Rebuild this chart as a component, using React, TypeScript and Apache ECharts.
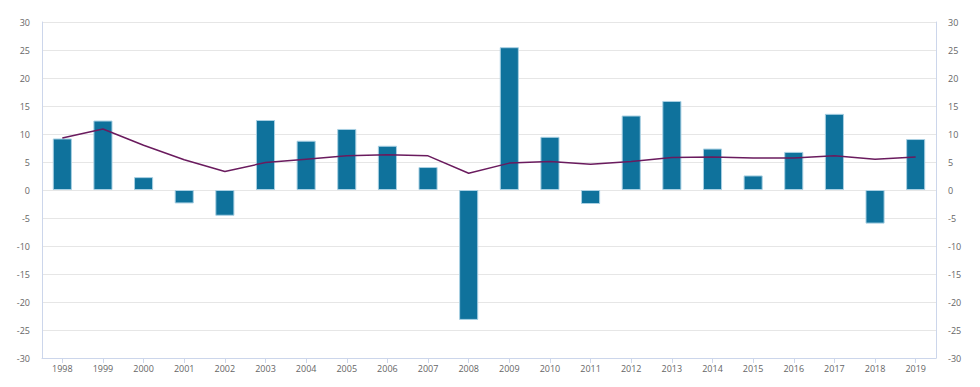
import React, { useEffect, useRef } from "react";
import * as echarts from "echarts";

const years = ["1998","1999","2000","2001","2002","2003","2004","2005","2006","2007","2008","2009","2010","2011","2012","2013","2014","2015","2016","2017","2018","2019"];
const barValues = [9.2, 12.4, 2.3, -2.4, -4.6, 12.5, 8.8, 10.9, 7.9, 4.1, -23.2, 25.5, 9.5, -2.5, 13.3, 15.9, 7.4, 2.6, 6.8, 13.6, -6.0, 9.1];
const lineValues = [9.3, 10.9, 8.0, 5.4, 3.3, 4.9, 5.5, 6.1, 6.3, 6.1, 3.0, 4.8, 5.1, 4.6, 5.1, 5.8, 5.9, 5.7, 5.7, 6.1, 5.5, 5.9];

export default function App() {
  const ref = useRef<HTMLDivElement>(null);
  useEffect(() => {
    if (!ref.current) return;
    const chart = echarts.init(ref.current, undefined, { renderer: "svg" });
    const axisLabel = { color: "#666666", fontSize: 9, fontFamily: "Open Sans" };
    const yAxisCommon = {
      type: "value" as const,
      min: -30,
      max: 30,
      interval: 5,
      axisLine: { show: true, lineStyle: { color: "#ccd6eb" } },
      axisTick: { show: false },
      axisLabel: { ...axisLabel, margin: 12 },
    };
    chart.setOption({
      animation: false,
      backgroundColor: "#ffffff",
      grid: { left: 42, right: 44, top: 22, bottom: 29, containLabel: false },
      xAxis: {
        type: "category",
        data: years,
        axisLine: { onZero: false, lineStyle: { color: "#ccd6eb" } },
        axisTick: { show: true, alignWithLabel: true, length: 5, lineStyle: { color: "#ccd6eb" } },
        axisLabel: { ...axisLabel, margin: 6 },
      },
      yAxis: [
        { ...yAxisCommon, position: "left", splitLine: { show: true, lineStyle: { color: "#e6e6e6" } } },
        { ...yAxisCommon, position: "right", splitLine: { show: false } },
      ],
      series: [
        {
          type: "bar",
          data: barValues,
          barWidth: "47%",
          itemStyle: { color: "#0f729c", borderColor: "#a9d0e3", borderWidth: 1 },
        },
        {
          type: "line",
          data: lineValues,
          showSymbol: false,
          symbol: "none",
          lineStyle: { color: "#6a1b5e", width: 1.5 },
          z: 3,
        },
      ],
    });
    return () => chart.dispose();
  }, []);
  return <div ref={ref} style={{ position: "fixed", left: 0, top: 0, width: 980, height: 387 }} />;
}
